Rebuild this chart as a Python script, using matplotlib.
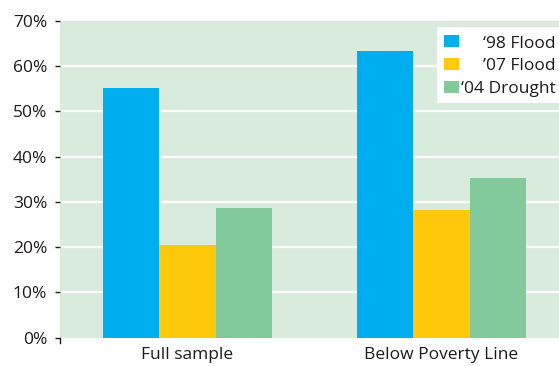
import matplotlib
matplotlib.use("Agg")
import matplotlib.pyplot as plt
from matplotlib.patches import Rectangle
import numpy as np

categories = ["Full sample", "Below Poverty Line"]
series_names = ["\u201898 Flood", "\u201907 Flood", "\u201804 Drought"]
series_names[1] = "\u201907 Flood".replace("\u2018", "\u2019")
flood98 = [55.2, 63.4]
flood07 = [20.4, 28.3]
drought04 = [28.6, 35.3]
series_values = [flood98, flood07, drought04]
colors = ["#00aeef", "#ffc90b", "#82ca9c"]
yticks = [0, 10, 20, 30, 40, 50, 60, 70]
ytick_labels = ["0%", "10%", "20%", "30%", "40%", "50%", "60%", "70%"]

plt.rcParams['font.family'] = ['Open Sans', 'DejaVu Sans']
text_color = "#1e1a1b"
bg = "#d9ebdd"
fs = 12.5

W, H = 559, 366
fig = plt.figure(figsize=(W / 100, H / 100), dpi=100)
fig.patch.set_facecolor("white")
ax = fig.add_axes([60 / W, (H - 337.5) / H, (W - 60) / W, (337.5 - 21) / H])
ax.set_facecolor(bg)

x = np.arange(len(categories))
bw = 0.223
for i, (vals, c) in enumerate(zip(series_values, colors)):
    ax.bar(x + (i - 1) * bw, vals, width=bw, color=c, zorder=3, linewidth=0)

ax.set_ylim(0, 70)
ax.set_xlim(-0.502, 1.4626)
ax.set_yticks(yticks)
ax.set_yticklabels(ytick_labels)
ax.set_xticks(x)
ax.set_xticklabels(categories)
for yv in yticks[1:-1]:
    ax.axhline(yv, color="white", linewidth=1.6, zorder=1)
for s in ax.spines.values():
    s.set_visible(False)
ax.tick_params(axis="y", length=3.5, width=1, color=text_color, pad=5.8,
               labelsize=fs, labelcolor=text_color)
ax.tick_params(axis="x", length=0, pad=6.8, labelsize=fs, labelcolor=text_color)
# small vertical tick at origin
ax.plot([-0.502, -0.502], [0, -1.3], color=text_color, lw=1, clip_on=False, zorder=4)

# legend box (figure pixel coordinates)
def px(xp, yp):
    return xp / W, 1 - yp / H
lx0, ly0, lx1, ly1 = 436.7, 26.7, 562, 103.3
fig.patches.append(Rectangle(px(lx0, ly1), (lx1 - lx0) / W, (ly1 - ly0) / H,
                             transform=fig.transFigure, facecolor="white",
                             edgecolor="none", zorder=5))
sq_top = [35, 58.3, 81]
baselines = [47.5, 70.5, 93.3]
for name, c, yt, yb in zip(series_names, colors, sq_top, baselines):
    fig.patches.append(Rectangle(px(444, yt + 11.7), 15 / W, 11.7 / H,
                                 transform=fig.transFigure, facecolor=c,
                                 edgecolor="none", zorder=6))
    fig.text(556 / W, 1 - yb / H, name, ha="right", va="baseline",
             fontsize=fs, color=text_color, zorder=7)

fig.savefig("out.png", dpi=100, facecolor="white")
